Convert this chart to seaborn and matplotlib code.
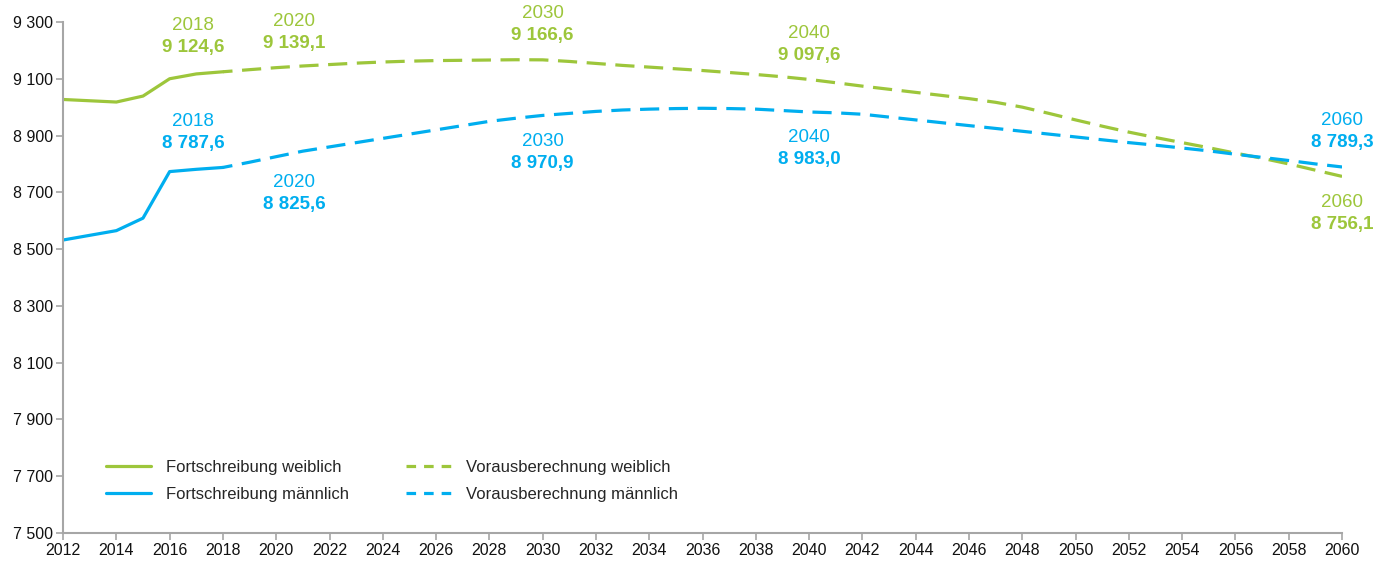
import matplotlib
matplotlib.use("Agg")
import matplotlib.pyplot as plt
from matplotlib.lines import Line2D
import numpy as np
import pandas as pd
import seaborn as sns

GREEN = "#9dc63b"
BLUE = "#00aeef"

# Fortschreibung (observed)
hist_years = [2012, 2014, 2015, 2016, 2017, 2018]
hist_w = [9027, 9018, 9039, 9100, 9117, 9124.6]
hist_m = [8532, 8565, 8609, 8773, 8781, 8787.6]

# Vorausberechnung (projection)
proj_years = list(range(2018, 2061))
proj_w = [9124.6, 9132, 9139.1, 9145, 9150, 9155, 9159, 9162, 9164, 9165,
          9166, 9167, 9166.6, 9161, 9154, 9147, 9141, 9135, 9129, 9122,
          9115, 9107, 9097.6, 9086, 9074, 9063, 9052, 9041, 9030, 9017,
          9000, 8978, 8955, 8933, 8912, 8893, 8875, 8857, 8838, 8820,
          8800, 8778, 8756.1]
proj_m = [8787.6, 8806, 8825.6, 8845, 8860, 8875, 8890, 8905, 8920, 8935,
          8950, 8961, 8970.9, 8978, 8985, 8990, 8993, 8995, 8996, 8995,
          8993, 8988, 8983.0, 8980, 8975, 8965, 8955, 8945, 8935, 8925,
          8915, 8905, 8895, 8885, 8875, 8866, 8856, 8846, 8834, 8823,
          8812, 8800, 8789.3]

label_years = [2018, 2020, 2030, 2040, 2060]
label_w = ["9 124,6", "9 139,1", "9 166,6", "9 097,6", "8 756,1"]
label_m = ["8 787,6", "8 825,6", "8 970,9", "8 983,0", "8 789,3"]
# label above (+1) or below (-1) the line
side_w = [1, 1, 1, 1, -1]
side_m = [1, -1, -1, -1, 1]
shift_x = [-30, 18, 0, 0, 0]

hist = pd.DataFrame({"Jahr": hist_years, "weiblich": hist_w, "männlich": hist_m})
proj = pd.DataFrame({"Jahr": proj_years, "weiblich": proj_w, "männlich": proj_m})

sns.set_style("white")
plt.rcParams["font.family"] = ["Liberation Sans", "DejaVu Sans"]

fig = plt.figure(figsize=(13.89, 5.62), dpi=100)
ax = fig.add_axes([0.0454, 0.0516, 0.9208, 0.9093])

lw = 2.3
dash = (3, (6, 3))
sns.lineplot(data=hist, x="Jahr", y="weiblich", color=GREEN, lw=lw, ax=ax)
sns.lineplot(data=hist, x="Jahr", y="männlich", color=BLUE, lw=lw, ax=ax)
sns.lineplot(data=proj, x="Jahr", y="weiblich", color=GREEN, lw=lw, ax=ax)
ax.lines[-1].set_linestyle(dash)
sns.lineplot(data=proj, x="Jahr", y="männlich", color=BLUE, lw=lw, ax=ax)
ax.lines[-1].set_linestyle(dash)

ax.set_xlim(2012, 2060)
ax.set_ylim(7500, 9300)
ax.set_xticks(range(2012, 2061, 2))
ax.set_yticks(range(7500, 9301, 200))
ax.set_yticklabels([f"{v:,}".replace(",", " ") for v in range(7500, 9301, 200)])
ax.set_xlabel("")
ax.set_ylabel("")
ax.tick_params(axis="y", labelsize=11.5)
ax.tick_params(axis="x", labelsize=11.5)
ax.tick_params(axis="both", length=5, width=1.2, color="#a6a6a6",
               direction="out", bottom=True, left=True, pad=2, labelcolor="#111111")
for s in ["top", "right"]:
    ax.spines[s].set_visible(False)
for s in ["left", "bottom"]:
    ax.spines[s].set_color("#a6a6a6")
    ax.spines[s].set_linewidth(1.5)

lookup_w = dict(zip(proj_years, proj_w))
lookup_m = dict(zip(proj_years, proj_m))


def put_labels(lookup, texts, sides, color):
    for yr, txt, sd, dx in zip(label_years, texts, sides, shift_x):
        y = lookup[yr]
        if sd > 0:
            offs = (46, 24)
        else:
            offs = (-26, -48)
        ax.annotate(str(yr), (yr, y), xytext=(dx, offs[0]), textcoords="offset pixels",
                    ha="center", va="center", color=color, fontsize=13.5)
        ax.annotate(txt, (yr, y), xytext=(dx, offs[1]), textcoords="offset pixels",
                    ha="center", va="center", color=color, fontsize=13.5, fontweight="bold")


put_labels(lookup_w, label_w, side_w, GREEN)
put_labels(lookup_m, label_m, side_m, BLUE)

handles = [
    Line2D([], [], color=GREEN, lw=lw),
    Line2D([], [], color=BLUE, lw=lw),
    Line2D([], [], color=GREEN, lw=lw, linestyle=(0, (3, 2.5))),
    Line2D([], [], color=BLUE, lw=lw, linestyle=(0, (3, 2.5))),
]
labels = ["Fortschreibung weiblich", "Fortschreibung männlich",
          "Vorausberechnung weiblich", "Vorausberechnung männlich"]
ax.legend(handles, labels, ncol=2, loc="upper left", bbox_to_anchor=(0.022, 0.172),
          frameon=False, fontsize=12, handlelength=2.7, handletextpad=0.9,
          columnspacing=3.4, labelspacing=0.72)

fig.savefig("out.png", dpi=100)
